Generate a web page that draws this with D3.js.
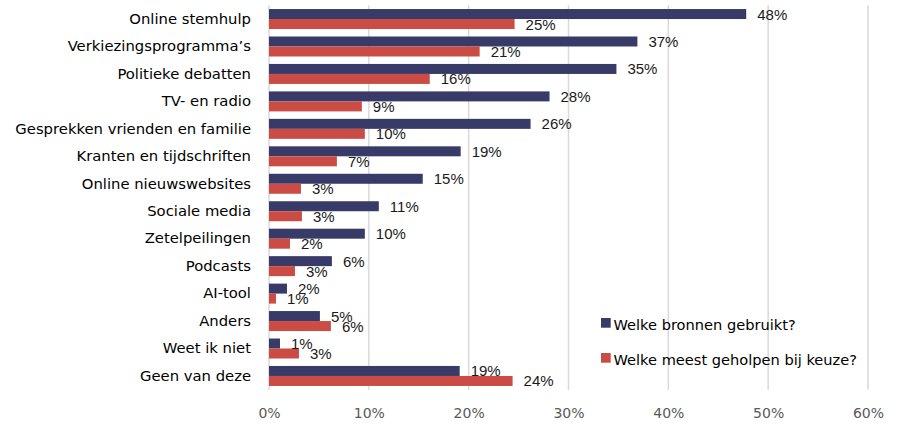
<!DOCTYPE html>
<html>
<head>
<meta charset="utf-8">
<script src="https://cdn.jsdelivr.net/npm/d3@7"></script>
<style>
  body { margin: 0; background: #fff; }
  svg { display: block; }
</style>
</head>
<body>
<div id="chart"></div>
<script>
// categories, top to bottom
var categories = [
  'Online stemhulp', 'Verkiezingsprogramma\u2019s', 'Politieke debatten', 'TV- en radio',
  'Gesprekken vrienden en familie', 'Kranten en tijdschriften', 'Online nieuwswebsites',
  'Sociale media', 'Zetelpeilingen', 'Podcasts', 'AI-tool', 'Anders', 'Weet ik niet', 'Geen van deze'
];
// percentages
var gebruikt = [47.8, 36.9, 34.8, 28.1, 26.2, 19.2, 15.4, 11.0, 9.6, 6.3, 1.8, 5.1, 1.1, 19.1];
var geholpen = [24.6, 21.1, 16.1, 9.3, 9.6, 6.8, 3.2, 3.3, 2.1, 2.6, 0.7, 6.2, 3.0, 24.4];
var seriesNames = ['Welke bronnen gebruikt?', 'Welke meest geholpen bij keuze?'];
var xTicks = [0, 10, 20, 30, 40, 50, 60];

var colors = ['#383b68', '#cb4c44'];
var width = 898, height = 427;
var margin = { top: 5.3, right: 30, bottom: 37.3, left: 269 };
var labelFont = '"DejaVu Sans", "Noto Sans", sans-serif';

var svg = d3.select('#chart').append('svg')
  .attr('width', width)
  .attr('height', height);

var x = d3.scaleLinear().domain([0, 60]).range([margin.left, 868]);
var y = d3.scaleBand().domain(categories)
  .range([margin.top, height - margin.bottom])
  .paddingInner(0.272).paddingOuter(0.136);
var sub = d3.scaleBand().domain([0, 1]).range([0, y.bandwidth()]);

// gridlines
svg.append('g').selectAll('line')
  .data(xTicks)
  .enter().append('line')
  .attr('x1', function(d) { return x(d); })
  .attr('x2', function(d) { return x(d); })
  .attr('y1', margin.top)
  .attr('y2', height - margin.bottom)
  .attr('stroke', '#d9d9d9')
  .attr('stroke-width', 1.5);

// x axis labels
var xAxis = d3.axisBottom(x).tickValues(xTicks)
  .tickFormat(function(d) { return d + '%'; })
  .tickSize(0).tickPadding(0);
var gx = svg.append('g')
  .attr('transform', 'translate(0,' + 418 + ')')
  .call(xAxis);
gx.select('.domain').remove();
gx.selectAll('text')
  .attr('dy', 0)
  .attr('fill', '#595959')
  .style('font-family', labelFont)
  .style('font-size', '14px');

// category labels
var yAxis = d3.axisLeft(y).tickSize(0).tickPadding(0);
var gy = svg.append('g')
  .attr('transform', 'translate(251,0)')
  .call(yAxis);
gy.select('.domain').remove();
gy.selectAll('text')
  .attr('fill', '#000')
  .style('font-family', labelFont)
  .style('font-size', '14.8px');

var rows = categories.map(function(c, i) {
  return { cat: c, vals: [gebruikt[i], geholpen[i]] };
});

var row = svg.append('g').selectAll('g')
  .data(rows)
  .enter().append('g')
  .attr('transform', function(d) { return 'translate(0,' + y(d.cat) + ')'; });

row.selectAll('rect')
  .data(function(d) { return d.vals; })
  .enter().append('rect')
  .attr('x', x(0))
  .attr('y', function(d, i) { return sub(i); })
  .attr('width', function(d) { return x(d) - x(0); })
  .attr('height', sub.bandwidth())
  .attr('fill', function(d, i) { return colors[i]; });

row.selectAll('text')
  .data(function(d) { return d.vals; })
  .enter().append('text')
  .attr('x', function(d) { return x(d) + 11; })
  .attr('y', function(d, i) { return sub(i) + sub.bandwidth() / 2 + 5.5; })
  .attr('fill', '#1a1a1a')
  .style('font-family', '"Liberation Sans", Arial, sans-serif')
  .style('font-size', '15px')
  .text(function(d) { return Math.round(d) + '%'; });

// legend
var legend = svg.append('g').selectAll('g')
  .data(seriesNames)
  .enter().append('g')
  .attr('transform', function(d, i) { return 'translate(601,' + (318 + i * 35) + ')'; });
legend.append('rect')
  .attr('width', 9.7).attr('height', 9.7)
  .attr('fill', function(d, i) { return colors[i]; });
legend.append('text')
  .attr('x', 12.5).attr('y', 11.5)
  .attr('fill', '#000')
  .style('font-family', labelFont)
  .style('font-size', '14.6px')
  .text(function(d) { return d; });
</script>
</body>
</html>
